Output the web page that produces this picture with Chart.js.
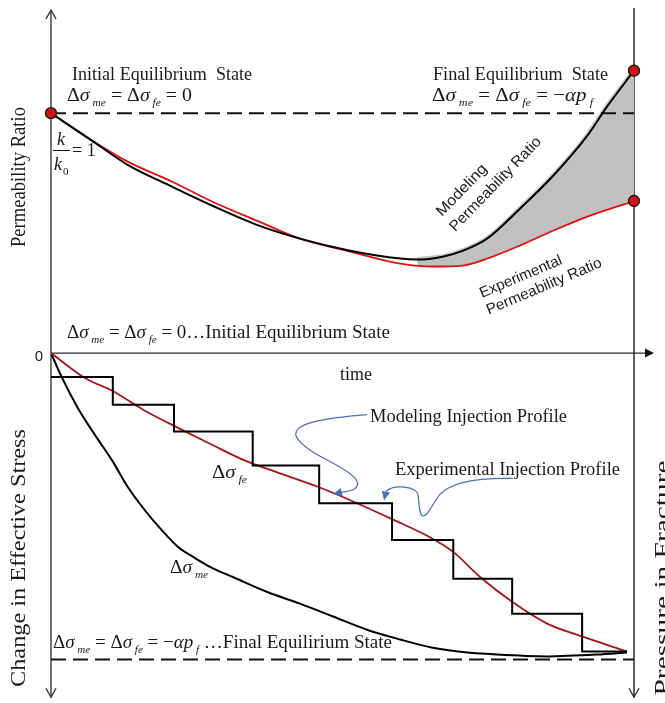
<!DOCTYPE html>
<html><head><meta charset="utf-8">
<script src="https://cdn.jsdelivr.net/npm/chart.js@4"></script>
<style>html,body{margin:0;padding:0;background:#fff;overflow:hidden}</style>
</head><body>
<canvas id="c" width="665" height="703"></canvas>
<script>
// ---- Top panel: permeability ratio k/k0 vs time (time normalised 0..100) ----
const modelTime  = [0, 6.7, 13.0, 20.9, 27.8, 35.8, 42.7, 51.3, 59.9, 62.8, 67.2, 70.7, 74.8, 80.4, 86.1, 91.9, 95.4, 100];
const modelRatio = [1.0, 0.891, 0.787, 0.692, 0.613, 0.530, 0.477, 0.427, 0.394, 0.390, 0.402, 0.427, 0.477, 0.601, 0.738, 0.903, 1.028, 1.177];
const expTime    = [0, 6.7, 13.0, 20.9, 27.8, 35.8, 42.7, 51.3, 59.9, 65.5, 70.7, 74.8, 80.4, 86.1, 91.9, 100];
const expRatio   = [1.0, 0.891, 0.800, 0.713, 0.630, 0.547, 0.477, 0.423, 0.373, 0.361, 0.365, 0.394, 0.448, 0.510, 0.568, 0.634];
const initialRatio = 1.0;
const fillStartTime = 62;

// ---- Bottom panel: change in effective stress (normalised by alpha*pf) ----
const stepTime    = [0, 10.6, 21.1, 34.6, 46.0, 58.5, 69.0, 79.1, 91.1, 98.8];
const stepStress  = [-0.078, -0.169, -0.256, -0.367, -0.490, -0.610, -0.737, -0.851, -0.974, -0.974];
const fracTime    = [0, 5.8, 10.5, 16.1, 21.8, 27.6, 33.3, 38.9, 46.0, 52.5, 58.5, 65.0, 69.0, 73.6, 79.1, 85.1, 91.1, 98.8];
const fracStress  = [0, -0.081, -0.123, -0.188, -0.244, -0.299, -0.351, -0.390, -0.438, -0.490, -0.542, -0.601, -0.649, -0.731, -0.812, -0.883, -0.925, -0.974];
const matrixTime  = [0, 1.9, 4.6, 7.5, 10.5, 13.2, 16.1, 19.0, 21.8, 24.7, 27.6, 31.2, 37.0, 42.7, 48.4, 54.2, 59.9, 65.5, 70.2, 76.5, 85.1, 93.7, 98.8];
const matrixStress= [0, -0.081, -0.179, -0.266, -0.351, -0.438, -0.513, -0.578, -0.633, -0.669, -0.701, -0.731, -0.779, -0.818, -0.860, -0.903, -0.935, -0.962, -0.975, -0.984, -0.990, -0.984, -0.977];
const finalStress = -1.0;
const timeMin = 0, timeMax = 100;

// ---- Annotation arrow paths (data units of the lower panel) ----
const modelArrowPath = [[54.20,-0.201],[47.86,-0.211],[40.14,-0.227],[42.37,-0.282],[44.43,-0.334],[50.43,-0.367],[52.32,-0.412],[53.34,-0.445],[51.29,-0.451],[49.57,-0.455]];
const modelArrowTip  = [48.37,-0.461];
const expArrowPath   = [[79.25,-0.409],[73.24,-0.406],[68.78,-0.419],[66.72,-0.461],[65.35,-0.494],[64.67,-0.532],[63.81,-0.532],[63.12,-0.532],[63.12,-0.481],[62.95,-0.461],[62.61,-0.438],[59.0,-0.425],[57.46,-0.451]];
const expArrowTip    = [57.12,-0.481];

const pts = (xs, ys) => xs.map((x, i) => ({x, y: ys[i]}));

const SERIF = '"Liberation Serif", "Times New Roman", serif';
const SANS = '"Liberation Sans", Arial, sans-serif';
const INK = '#1a1a1a';

function fontFor(style, size) {
  if (style === 'i') return `italic ${size}px ${SERIF}`;
  if (style === 's') return `italic ${Math.round(size*0.6)}px ${SERIF}`;
  if (style === 'z') return `${Math.round(size*0.6)}px ${SERIF}`;
  return `${size}px ${SERIF}`;
}
function drawRich(ctx, runs, x, y, size, targetW) {
  const parts = runs.map(([t, s]) => { const f = fontFor(s, size); ctx.font = f; return {t, s, f, w: ctx.measureText(t).width}; });
  const total = parts.reduce((a, p) => a + p.w, 0);
  ctx.save(); ctx.translate(x, y); ctx.scale(targetW ? targetW/total : 1, 1);
  ctx.fillStyle = INK; ctx.textBaseline = 'alphabetic'; ctx.textAlign = 'left';
  let cx = 0;
  for (const p of parts) { ctx.font = p.f; ctx.fillText(p.t, cx, (p.s === 's' || p.s === 'z') ? size*0.25 : 0); cx += p.w; }
  ctx.restore();
}
function fitText(ctx, text, x, y, font, targetW, rot, align) {
  ctx.save(); ctx.font = font; const w = ctx.measureText(text).width;
  ctx.translate(x, y); if (rot) ctx.rotate(rot); ctx.scale(targetW ? targetW/w : 1, 1);
  ctx.fillStyle = INK; ctx.textAlign = align || 'left'; ctx.textBaseline = 'alphabetic';
  ctx.fillText(text, 0, 0); ctx.restore();
}

const dsig = (sub) => [['Δ','r'],['σ','i'],[' '+sub,'s']];
const eqInit  = [...dsig('me'),[' = ','r'],...dsig('fe'),[' = 0','r']];
const eqFinal = [...dsig('me'),[' = ','r'],...dsig('fe'),[' = −','r'],['αp','i'],[' f','s']];

const decor = {
  id: 'decor',
  beforeDatasetsDraw(chart) {
    const ctx = chart.ctx, a = chart.chartArea;
    const y0 = chart.scales.yP.getPixelForValue(0);
    ctx.save();
    ctx.strokeStyle = '#2a2a2a'; ctx.lineWidth = 1.3; ctx.lineJoin = 'miter';
    const L = (...p) => { ctx.beginPath(); ctx.moveTo(p[0], p[1]); for (let i = 2; i < p.length; i += 2) ctx.lineTo(p[i], p[i+1]); ctx.stroke(); };
    L(a.left, a.top, a.left, a.bottom + 1);
    L(a.left - 5, a.top + 9, a.left, a.top, a.left + 5, a.top + 9);
    L(a.left - 5, a.bottom - 8, a.left, a.bottom + 1, a.left + 5, a.bottom - 8);
    ctx.lineWidth = 1.5;
    L(a.right, a.top - 2, a.right, a.bottom + 1);
    ctx.lineWidth = 1.3;
    L(a.right - 5, a.bottom - 8, a.right, a.bottom + 1, a.right + 5, a.bottom - 8);
    L(a.left, y0, a.right + 12, y0);
    ctx.fillStyle = '#111';
    ctx.beginPath(); ctx.moveTo(a.right + 11, y0 - 4.5); ctx.lineTo(a.right + 20, y0); ctx.lineTo(a.right + 11, y0 + 4.5); ctx.closePath(); ctx.fill();
    ctx.restore();
  },
  afterDraw(chart) {
    const ctx = chart.ctx;
    const sx = chart.scales.x, sS = chart.scales.yS;
    const P = (p) => [sx.getPixelForValue(p[0]), sS.getPixelForValue(p[1])];
    ctx.save();
    fitText(ctx, 'Initial Equilibrium  State', 72, 80, `18px ${SERIF}`, 180);
    drawRich(ctx, eqInit, 67, 101, 19, 125);
    fitText(ctx, 'Final Equilibrium  State', 433, 80, `18px ${SERIF}`, 175);
    drawRich(ctx, eqFinal, 432, 101, 19, 161);
    ctx.fillStyle = INK;
    ctx.font = `italic 18px ${SERIF}`; ctx.fillText('k', 57, 145);
    ctx.fillText('k', 54, 170);
    ctx.font = `11px ${SERIF}`; ctx.fillText('0', 63, 175);
    ctx.font = `18px ${SERIF}`; ctx.fillText('= 1', 72, 156);
    ctx.strokeStyle = INK; ctx.lineWidth = 1; ctx.beginPath(); ctx.moveTo(53, 150.5); ctx.lineTo(70, 150.5); ctx.stroke();
    fitText(ctx, 'Modeling', 442, 217, `15px ${SANS}`, 66, -46*Math.PI/180);
    ctx.save(); ctx.translate(442, 217); ctx.rotate(-46*Math.PI/180);
    fitText(ctx, 'Permeability Ratio', -1.8, 20, `15px ${SANS}`, 125);
    ctx.restore();
    fitText(ctx, 'Experimental', 482, 298, `15px ${SANS}`, 88, -23*Math.PI/180);
    ctx.save(); ctx.translate(482, 298); ctx.rotate(-23*Math.PI/180);
    fitText(ctx, 'Permeability Ratio', -0.4, 18, `15px ${SANS}`, 124);
    ctx.restore();
    fitText(ctx, 'Permeability Ratio', 25, 177, `22px ${SERIF}`, 140, -Math.PI/2, 'center');
    fitText(ctx, 'Change in Effective Stress', 25, 558, `22px ${SERIF}`, 258, -Math.PI/2, 'center');
    fitText(ctx, 'Pressure in Fracture', 669, 578, `22px ${SERIF}`, 235, -Math.PI/2, 'center');
    drawRich(ctx, [...eqInit, ['…Initial Equilibrium State','r']], 67, 338, 19, 323);
    ctx.fillStyle = INK; ctx.font = `15px ${SANS}`; ctx.textAlign = 'center'; ctx.textBaseline = 'middle';
    ctx.fillText('0', 39, 357);
    ctx.textAlign = 'left'; ctx.textBaseline = 'alphabetic';
    fitText(ctx, 'time', 340, 380, `18px ${SERIF}`, 32);
    fitText(ctx, 'Modeling Injection Profile', 370, 422, `18px ${SERIF}`, 197);
    fitText(ctx, 'Experimental Injection Profile', 395, 475, `18px ${SERIF}`, 225);
    drawRich(ctx, dsig('fe'), 212, 478, 19, 35);
    drawRich(ctx, dsig('me'), 170, 573, 19, 38);
    drawRich(ctx, [...eqFinal, [' …Final Equilirium State','r']], 53, 648, 19, 339);
    const arrow = (path, tip) => {
      const q = path.map(P);
      ctx.strokeStyle = '#4a6fbd'; ctx.fillStyle = '#4a6fbd'; ctx.lineWidth = 1.2;
      ctx.beginPath(); ctx.moveTo(q[0][0], q[0][1]);
      for (let i = 1; i + 2 < q.length; i += 3) ctx.bezierCurveTo(q[i][0], q[i][1], q[i+1][0], q[i+1][1], q[i+2][0], q[i+2][1]);
      ctx.stroke();
      const b = q[q.length-1], t = P(tip);
      const dx = t[0]-b[0], dy = t[1]-b[1], d = Math.hypot(dx, dy) || 1, ux = dx/d, uy = dy/d;
      const hl = 9, hw = 4.2;
      const bx = t[0]-ux*hl, by = t[1]-uy*hl;
      ctx.beginPath(); ctx.moveTo(t[0], t[1]); ctx.lineTo(bx - uy*hw, by + ux*hw); ctx.lineTo(bx + uy*hw, by - ux*hw); ctx.closePath(); ctx.fill();
    };
    arrow(modelArrowPath, modelArrowTip);
    arrow(expArrowPath, expArrowTip);
    ctx.restore();
  }
};

const modelPts = pts(modelTime, modelRatio);
const expPts = pts(expTime, expRatio);
const dotPts = [modelPts[0], modelPts[modelPts.length-1], expPts[expPts.length-1]];

new Chart(document.getElementById('c'), {
  type: 'line',
  data: { datasets: [
    { label: 'gap', order: 10, data: modelPts.filter(p => p.x >= fillStartTime), yAxisID: 'yP', borderColor: '#c4c4c4', borderWidth: 5,
      fill: { target: 2, above: '#c0c0c0', below: 'rgba(0,0,0,0)' }, cubicInterpolationMode: 'monotone', pointRadius: 0 },
    { label: 'Modeling Permeability Ratio', data: modelPts, yAxisID: 'yP', borderColor: '#000', borderWidth: 2, cubicInterpolationMode: 'monotone', pointRadius: 0, fill: false },
    { label: 'Experimental Permeability Ratio', data: expPts, yAxisID: 'yP', borderColor: '#e01010', borderWidth: 1.8, cubicInterpolationMode: 'monotone', pointRadius: 0, fill: false },
    { label: 'Initial state', data: [{x: timeMin, y: initialRatio}, {x: timeMax, y: initialRatio}], yAxisID: 'yP', borderColor: '#111', borderWidth: 2, borderDash: [15, 7], pointRadius: 0, fill: false },
    { label: 'Injection profile', data: pts(stepTime, stepStress), yAxisID: 'yS', borderColor: '#000', borderWidth: 2, stepped: true, pointRadius: 0, fill: false },
    { label: 'dsigma_fe', data: pts(fracTime, fracStress), yAxisID: 'yS', borderColor: '#a8141a', borderWidth: 1.8, cubicInterpolationMode: 'monotone', pointRadius: 0, fill: false },
    { label: 'dsigma_me', data: pts(matrixTime, matrixStress), yAxisID: 'yS', borderColor: '#000', borderWidth: 2, cubicInterpolationMode: 'monotone', pointRadius: 0, fill: false },
    { label: 'Final state', data: [{x: timeMin, y: finalStress}, {x: timeMax, y: finalStress}], yAxisID: 'yS', borderColor: '#111', borderWidth: 2, borderDash: [15, 7], pointRadius: 0, fill: false },
    { label: 'states', order: -1, data: dotPts, yAxisID: 'yP', showLine: false, pointRadius: 5.5, pointBackgroundColor: '#d01414', pointBorderColor: '#111', pointBorderWidth: 1.3, clip: false }
  ]},
  options: {
    responsive: false, animation: false, devicePixelRatio: 1,
    layout: { padding: { left: 51, right: 31, top: 10, bottom: 3 } },
    plugins: { legend: { display: false }, tooltip: { enabled: false } },
    scales: {
      x: { type: 'linear', min: timeMin, max: timeMax, display: false },
      yP: { type: 'linear', min: -1.43, max: 1.43, display: false },
      yS: { type: 'linear', min: -1.12, max: 1.12, display: false }
    }
  },
  plugins: [decor]
});
</script>
</body></html>
